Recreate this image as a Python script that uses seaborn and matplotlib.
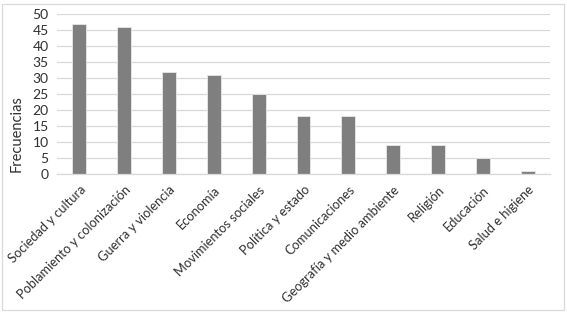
import matplotlib
matplotlib.use("Agg")
import matplotlib.pyplot as plt
import seaborn as sns
import pandas as pd
from matplotlib.patches import Rectangle

categorias = ["Sociedad y cultura", "Poblamiento y colonización", "Guerra y violencia",
              "Economía", "Movimientos sociales", "Política y estado", "Comunicaciones",
              "Geografía y medio ambiente", "Religión", "Educación", "Salud e higiene"]
frecuencias = [47, 46, 32, 31, 25, 18, 18, 9, 9, 5, 1]
yticks = [0, 5, 10, 15, 20, 25, 30, 35, 40, 45, 50]

sns.set_theme(style="white")
plt.rcParams['font.family'] = ['Lato', 'DejaVu Sans']

df = pd.DataFrame({"cat": categorias, "freq": frecuencias})

fig = plt.figure(figsize=(5.67, 3.13), dpi=100)
ax = fig.add_axes([57/567, 1 - 174/313, (550-57)/567, (174-14)/313])

sns.barplot(data=df, x="cat", y="freq", color="#7f7f7f", saturation=1,
            width=0.31, ax=ax, edgecolor="#e8e8e8", linewidth=0.6)

ax.set_ylim(0, 50)
ax.set_xlim(-0.5, len(categorias) - 0.5)
ax.set_yticks(yticks)
ax.set_yticklabels([str(v) for v in yticks], fontsize=10, color="#303030")
ax.yaxis.grid(True, color="#d9d9d9", linewidth=0.9)
ax.set_axisbelow(True)
for s in ["top", "right", "left"]:
    ax.spines[s].set_visible(False)
ax.spines["bottom"].set_color("#d9d9d9")
ax.spines["bottom"].set_linewidth(0.9)
ax.tick_params(axis="both", length=0, pad=6)
ax.set_xticks(range(len(categorias)))
ax.set_xticklabels(categorias, rotation=45, ha="right", rotation_mode="anchor",
                   fontsize=9.3, color="#303030")
ax.tick_params(axis="x", pad=7)
ax.set_xlabel("")
ax.set_ylabel("")
fig.text(17/567, 1 - 134/313, "Frecuencias", rotation=90, ha="center", va="center",
         fontsize=10.5, color="#303030")

fig.patches.append(Rectangle((2/567, 3/313), 562/567, 306/313, transform=fig.transFigure,
                             fill=False, edgecolor="#d9d9d9", linewidth=0.9))

fig.savefig("out.png", dpi=100)
